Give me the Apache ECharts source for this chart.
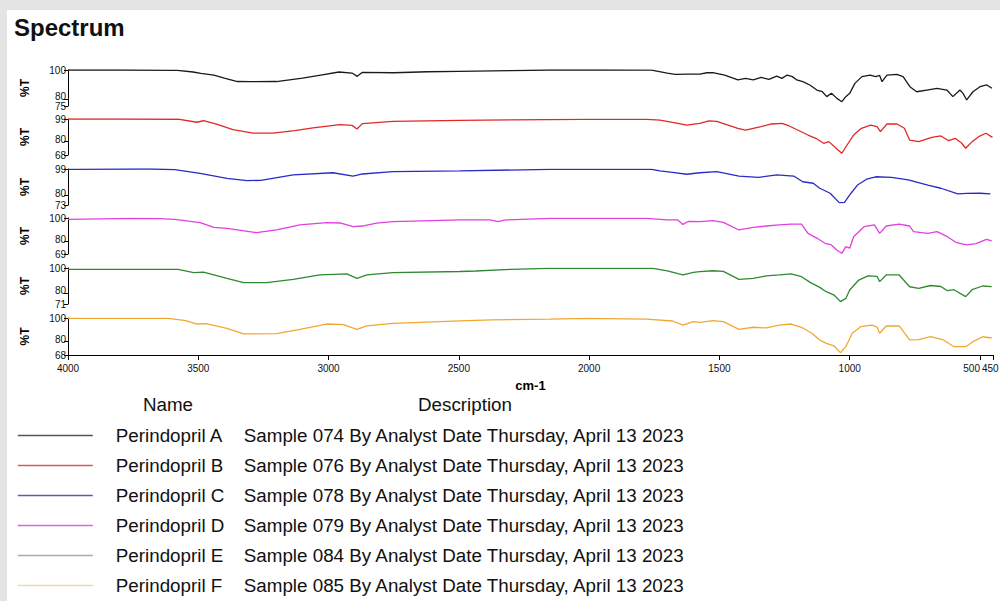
<!DOCTYPE html>
<html><head><meta charset="utf-8">
<script src="https://cdn.jsdelivr.net/npm/echarts@6/dist/echarts.min.js"></script>
<style>
html,body{margin:0;padding:0;background:#e4e4e4;width:1000px;height:601px;overflow:hidden}
#bg{position:absolute;left:7px;top:10px;width:993px;height:591px;background:#fff}
#c{position:absolute;left:0;top:0;width:1000px;height:601px}
</style></head>
<body><div id="bg"></div><div id="c"></div>
<script>
// ---- data ----
const names = ['Perindopril A','Perindopril B','Perindopril C','Perindopril D','Perindopril E','Perindopril F'];
const descriptions = [
  'Sample 074 By Analyst Date Thursday, April 13 2023',
  'Sample 076 By Analyst Date Thursday, April 13 2023',
  'Sample 078 By Analyst Date Thursday, April 13 2023',
  'Sample 079 By Analyst Date Thursday, April 13 2023',
  'Sample 084 By Analyst Date Thursday, April 13 2023',
  'Sample 085 By Analyst Date Thursday, April 13 2023'
];
const yMax = [100, 99, 99, 100, 100, 100];
const yMin = [75, 68, 73, 69, 71, 68];
const yMid = [80, 80, 80, 80, 80, 80];
const xTicks = [4000, 3500, 3000, 2500, 2000, 1500, 1000];
const xEndTicks = [500, 450];

const seriesA = [[4000,100],[3800,100],[3580,99.8],[3520,98.6],[3490,97.7],[3440,96.5],[3400,94.4],[3350,92.0],[3300,91.9],[3200,92.0],[3100,94.4],[3030,96.5],[2960,98.6],[2910,97.9],[2890,95.6],[2870,98.4],[2750,98.1],[2620,98.8],[2500,99.1],[2300,99.6],[2150,100],[1950,100],[1760,99.9],[1700,97.9],[1670,97.0],[1620,97.2],[1575,97.2],[1548,98.1],[1525,98.1],[1480,96.5],[1429,93.1],[1400,94.2],[1370,93.1],[1340,94.9],[1310,93.5],[1280,95.8],[1260,94.2],[1240,96.5],[1220,95.4],[1203,93.1],[1180,91.9],[1153,89.6],[1126,86.1],[1105,84.9],[1088,81.5],[1070,83.8],[1049,80.3],[1030,78.0],[1015,81.5],[1000,83.8],[980,90.7],[953,95.4],[922,96.5],[900,95.4],[885,96.2],[876,91.9],[857,96.5],[819,97.0],[795,95.4],[769,88.4],[743,84.9],[720,85.6],[704,86.1],[665,87.3],[627,86.1],[604,81.5],[577,86.1],[565,83.8],[551,79.2],[527,84.9],[500,88.4],[474,89.6],[454,87.3]];
const seriesB = [[4000,99],[3800,99],[3578,98.8],[3505,96.2],[3480,97.5],[3430,94.5],[3367,89.8],[3290,86.9],[3213,86.9],[3130,89],[3060,91.3],[2956,94.1],[2910,93.5],[2891,90.4],[2870,95.0],[2753,97.0],[2496,97.9],[2300,98.2],[2024,98.7],[1778,98.7],[1728,98.1],[1680,96],[1625,93.8],[1575,95.3],[1540,97.3],[1510,97.0],[1429,91.0],[1400,89.5],[1370,91.0],[1340,92.4],[1300,94.7],[1260,95.3],[1232,93.0],[1200,89.5],[1160,85.2],[1130,82.4],[1100,78.1],[1080,79.5],[1045,72.3],[1030,69.5],[1010,76.6],[985,85.2],[955,91.0],[920,93.8],[895,92.4],[882,88.1],[857,94.7],[819,94.7],[790,91.0],[770,80.9],[735,79.5],[685,83.2],[650,84.4],[620,80.3],[595,82.4],[570,78.1],[555,73.8],[530,79.5],[505,83.8],[477,86.7],[452,83.2]];
const seriesC = [[4000,98.8],[3740,99],[3680,99],[3590,98.6],[3493,95.9],[3390,92.3],[3313,90.6],[3260,90.8],[3136,94.7],[2983,96.3],[2906,93.9],[2870,95.4],[2753,97.1],[2496,97.6],[2150,98.8],[1760,98.8],[1728,97.6],[1680,96.5],[1625,95.2],[1575,96.3],[1510,97.1],[1425,93.9],[1350,93.0],[1280,94.7],[1215,93.9],[1180,89.8],[1140,88.7],[1115,85.1],[1075,81.5],[1040,74.7],[1020,74.9],[995,81.5],[970,87.4],[935,91.6],[900,93.4],[840,93.0],[775,91.1],[700,87.4],[650,85.1],[585,81.0],[550,81.4],[500,81.5],[460,81.0]];
const seriesD = [[4000,98.9],[3750,99.7],[3650,99.5],[3590,98.9],[3493,96.0],[3440,92.0],[3390,91.1],[3276,87.4],[3200,89.7],[3110,94.0],[3008,96.0],[2956,95.7],[2906,92.5],[2870,93.1],[2816,95.5],[2753,96.8],[2496,98.3],[2380,98.3],[2350,96.8],[2320,98.3],[2150,99.7],[1780,99.7],[1700,98.3],[1660,98.3],[1640,94.5],[1620,97],[1575,96.8],[1525,97.7],[1485,96.3],[1425,89.7],[1370,92.0],[1320,93.1],[1270,94.0],[1225,94.8],[1185,94.8],[1160,86.8],[1125,82.5],[1095,78.2],[1070,76.8],[1050,72.4],[1030,69.6],[1015,75.3],[1000,74.0],[985,83.9],[945,92.5],[905,94.0],[885,86.8],[860,93.1],[810,94.8],[770,93.1],[755,88.2],[700,86.8],[665,88.2],[625,83.9],[590,78.7],[550,76.8],[515,77.9],[475,81.6],[455,80.2]];
const seriesE = [[4000,98.9],[3800,98.9],[3578,98.9],[3518,96.2],[3480,96.7],[3390,91.7],[3326,88.2],[3237,88.2],[3136,90.9],[3033,94.4],[2930,95.2],[2891,91.7],[2853,94.4],[2753,96.2],[2496,97.2],[2435,97.6],[2300,98.9],[2160,99.7],[1755,99.7],[1700,97.6],[1640,94.4],[1600,96.5],[1575,97.0],[1525,97.8],[1485,97.3],[1425,90.9],[1370,91.7],[1320,93.6],[1270,94.4],[1225,95.2],[1185,93.0],[1150,88.2],[1115,84.4],[1090,80.9],[1060,78.2],[1035,72.9],[1015,75.5],[1000,82.3],[965,90.3],[930,93.6],[895,93.2],[885,89.0],[860,94.4],[810,94.4],[770,84.9],[735,83.6],[690,85.9],[650,85.1],[625,81.7],[600,82.5],[555,76.9],[530,82.5],[490,85.5],[455,85.0]];
const seriesF = [[4000,99.7],[3800,99.7],[3615,99.7],[3548,97.7],[3505,94.8],[3470,95.2],[3390,91.1],[3326,86.2],[3200,86.5],[3110,90.2],[3008,94.8],[2943,94.3],[2891,90.2],[2853,93.1],[2753,95.4],[2496,97.6],[2375,98.3],[2150,99.1],[2010,99.7],[1780,99.1],[1680,97.4],[1640,93.9],[1600,96.8],[1575,96.3],[1525,97.7],[1485,96.9],[1425,90.2],[1370,92.0],[1320,91.4],[1270,93.9],[1225,94.8],[1180,91.4],[1145,86.8],[1115,81.0],[1090,78.1],[1060,75.8],[1035,70.0],[1015,75.2],[990,86.8],[958,92.5],[915,93.9],[895,92.2],[885,86.8],[860,93.1],[810,93.1],[770,81.0],[735,81.3],[690,83.8],[640,81.0],[600,75.2],[555,75.2],[530,79.1],[490,83.8],[455,82.7]];

// ---- styles ----
const allSeries = [seriesA, seriesB, seriesC, seriesD, seriesE, seriesF];
const lineColors = ['#1a1a1a', '#e02828', '#2a2ac8', '#e040e0', '#2e8a2e', '#f2a830'];
const legendColors = ['#555555', '#d65a5a', '#5a5ab4', '#d46ad4', '#a8aca8', '#eadcb0'];
const gridTops = [70, 119, 169, 218, 268, 318];
const font = 'Arial, "Liberation Sans", sans-serif';
const legendFont = 18.8;
const lblStyle = {color: '#111', fontSize: 10, fontFamily: font};

const grids = [], xAxes = [], yAxes = [], series = [];
for (let i = 0; i < 6; i++) {
  const last = i === 5;
  grids.push({left: 68, right: 7, top: gridTops[i], height: last ? 37 : 36, containLabel: false, outerBoundsMode: 'none'});
  xAxes.push({
    type: 'value', gridIndex: i, min: 450, max: 4000, inverse: true, show: last, position: 'bottom',
    splitLine: {show: false},
    axisLine: {show: last, lineStyle: {color: '#000', width: 1}},
    axisTick: {show: last, length: 5, lineStyle: {color: '#000'}, customValues: xTicks},
    axisLabel: Object.assign({show: last, customValues: xTicks, showMinLabel: true, showMaxLabel: true,
      formatter: (v) => String(v), margin: 8}, lblStyle),
    name: last ? 'cm-1' : '', nameLocation: 'middle', nameGap: 24,
    nameTextStyle: {fontWeight: 'bold', fontSize: 13, color: '#000', fontFamily: font}
  });
  const ends = [yMax[i], yMin[i]];
  // main y axis: line, end ticks/labels, and %T name
  yAxes.push({
    type: 'value', gridIndex: i, min: yMin[i], max: yMax[i], position: 'left', offset: 0,
    splitLine: {show: false},
    axisLine: {show: true, lineStyle: {color: '#000', width: 1}},
    axisTick: {show: true, length: 4, customValues: ends, lineStyle: {color: '#000'}},
    axisLabel: Object.assign({customValues: ends, showMinLabel: true, showMaxLabel: true, margin: 2}, lblStyle),
    name: '%T', nameLocation: 'middle', nameGap: 37, nameRotate: 90,
    nameTextStyle: {fontWeight: 'bold', fontSize: 12, color: '#000', fontFamily: font}
  });
  series.push({
    name: names[i], type: 'line', xAxisIndex: i, yAxisIndex: yAxes.length - 1,
    data: allSeries[i], symbol: 'none', showSymbol: false, smooth: false,
    lineStyle: {color: lineColors[i], width: 1.3}, itemStyle: {color: lineColors[i]},
    silent: true, animation: false
  });
  // companion y axis on the same scale for the intermediate tick (80)
  yAxes.push({
    type: 'value', gridIndex: i, min: yMin[i], max: yMax[i], position: 'left', offset: 0,
    splitLine: {show: false}, axisLine: {show: false},
    axisTick: {show: true, length: 4, customValues: [yMid[i]], lineStyle: {color: '#000'}},
    axisLabel: Object.assign({customValues: [yMid[i]], showMinLabel: true, showMaxLabel: true, margin: 2,
      verticalAlign: 'bottom', padding: [0, 0, -3, 0]}, lblStyle)
  });
}
// companion x axes on the bottom grid for the crowded 500 / 450 end ticks
xAxes.push({
  type: 'value', gridIndex: 5, min: 450, max: 4000, inverse: true, position: 'bottom', offset: 0,
  splitLine: {show: false}, axisLine: {show: false},
  axisTick: {show: true, length: 5, lineStyle: {color: '#000'}, customValues: [xEndTicks[0]]},
  axisLabel: Object.assign({customValues: [xEndTicks[0]], showMinLabel: true, showMaxLabel: true,
    formatter: (v) => String(v), margin: 8, align: 'right'}, lblStyle)
});
xAxes.push({
  type: 'value', gridIndex: 5, min: 450, max: 4000, inverse: true, position: 'bottom', offset: 0,
  splitLine: {show: false}, axisLine: {show: false},
  axisTick: {show: true, length: 5, lineStyle: {color: '#000'}, customValues: [xEndTicks[1]]},
  axisLabel: Object.assign({customValues: [xEndTicks[1]], showMinLabel: true, showMaxLabel: true,
    formatter: (v) => String(v), margin: 8, align: 'left', padding: [0, 0, 0, -11]}, lblStyle)
});

const chart = echarts.init(document.getElementById('c'), null, {renderer: 'svg'});
chart.setOption({
  backgroundColor: 'transparent',
  animation: false,
  title: {text: 'Spectrum', left: 14, top: 15, padding: 0,
    textStyle: {fontSize: 24, fontWeight: 'bold', color: '#111', fontFamily: font}},
  grid: grids, xAxis: xAxes, yAxis: yAxes, series: series,
  legend: {
    orient: 'vertical', left: 17, top: 426, padding: 0,
    itemWidth: 75, itemHeight: 14, itemGap: 11,
    selectedMode: false,
    data: names.map((n, i) => ({
      name: n,
      itemStyle: {color: legendColors[i], opacity: 0},
      lineStyle: {color: legendColors[i], width: 1.6, opacity: 1}
    })),
    formatter: (n) => '{g| }{n|' + n + '}{d|' + descriptions[names.indexOf(n)] + '}',
    textStyle: {
      color: '#111', fontFamily: font, fontSize: legendFont,
      rich: {
        g: {width: 18, fontSize: legendFont},
        n: {width: 128, fontSize: legendFont, color: '#111', fontFamily: font},
        d: {fontSize: legendFont, color: '#111', fontFamily: font}
      }
    }
  },
  graphic: [
    {type: 'text', x: 168, y: 404, style: {text: 'Name', fontSize: legendFont, fontFamily: font, fill: '#111', align: 'center', verticalAlign: 'middle'}},
    {type: 'text', x: 465, y: 404, style: {text: 'Description', fontSize: legendFont, fontFamily: font, fill: '#111', align: 'center', verticalAlign: 'middle'}}
  ]
});
</script></body></html>
